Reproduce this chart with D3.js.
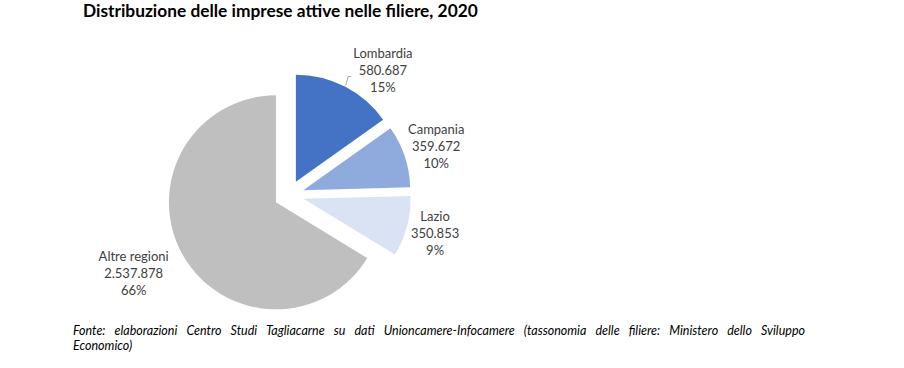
<!DOCTYPE html>
<html>
<head>
<meta charset="utf-8">
<script src="https://cdn.jsdelivr.net/npm/d3@7"></script>
<style>
  body { margin: 0; background: #fff; }
  svg { display: block; }
</style>
</head>
<body>
<div id="chart"></div>
<script>
// data
const regions = ['Lombardia', 'Campania', 'Lazio', 'Altre regioni'];
const imprese = [580687, 359672, 350853, 2537878];
const valueLabels = ['580.687', '359.672', '350.853', '2.537.878'];
const pctLabels = ['15%', '10%', '9%', '66%'];
const colors = ['#4472C4', '#8FAADC', '#DAE3F3', '#BFBFBF'];

const title = 'Distribuzione delle imprese attive nelle filiere, 2020';
const noteLines = [
    'Fonte: elaborazioni Centro Studi Tagliacarne su dati Unioncamere-Infocamere (tassonomia delle filiere: Ministero dello Sviluppo',
    'Economico)'
];

const width = 904, height = 368;
const cx = 289, cy = 195;
const radius = 107;
const explode = 15;
const labelPad = 5;
const lineH = 17;
const font = 'Lato, "Open Sans", sans-serif';
// Excel "best fit" moved a couple of labels a bit
const labelNudge = { 'Lombardia': [22, 12], 'Altre regioni': [-14, 4] };

const svg = d3.select('#chart')
    .append('svg')
    .attr('width', width)
    .attr('height', height);

// title, sized to the reference width
const titleText = svg.append('text')
    .attr('x', 83)
    .attr('y', 17)
    .attr('font-family', font)
    .attr('font-weight', 700)
    .attr('font-size', 16)
    .attr('fill', '#000')
    .text(title);
const tw = titleText.node().getComputedTextLength();
titleText.attr('font-size', 16 * 395 / tw);

const pie = d3.pie().sort(null).value(d => d);
const arcs = pie(imprese);
const arc = d3.arc().innerRadius(0).outerRadius(radius);

const g = svg.append('g').attr('transform', `translate(${cx},${cy})`);

function dirOf(d) {
    const a = (d.startAngle + d.endAngle) / 2;
    return [Math.sin(a), -Math.cos(a)];
}

g.selectAll('.slice')
    .data(arcs)
    .join('path')
    .attr('class', 'slice')
    .attr('d', arc)
    .attr('fill', (d, i) => colors[i])
    .attr('transform', d => {
        const [dx, dy] = dirOf(d);
        return `translate(${dx * explode},${dy * explode})`;
    });

// labels
const labels = g.selectAll('.lbl')
    .data(arcs)
    .join('text')
    .attr('class', 'lbl')
    .attr('font-family', font)
    .attr('font-size', 13)
    .attr('fill', '#404040')
    .attr('text-anchor', 'middle');

labels.each(function(d, i) {
    const t = d3.select(this);
    [regions[i], valueLabels[i], pctLabels[i]].forEach((s, k) => {
        t.append('tspan').attr('x', 0).attr('y', (k - 1) * lineH + 4).text(s);
    });
    const bb = this.getBBox();
    const [dx, dy] = dirOf(d);
    const r = radius + explode + labelPad;
    const nudge = labelNudge[regions[i]] || [0, 0];
    const lx = dx * r + dx * bb.width / 2 + nudge[0];
    const ly = dy * r + dy * 3 * lineH / 2 + nudge[1];
    t.attr('transform', `translate(${lx},${ly})`);
    d.lx = lx; d.ly = ly; d.w = bb.width;
});

// leader line for Lombardia
const lomb = arcs[0];
const [ldx, ldy] = dirOf(lomb);
const startPt = [ldx * (explode + radius + 2), ldy * (explode + radius + 2)];
const textLeft = lomb.lx - lomb.w / 2 - 2;
const leaderY = lomb.ly + 5;
g.append('polyline')
    .attr('points', [startPt, [textLeft - 3, leaderY], [textLeft, leaderY]].map(p => p.join(',')).join(' '))
    .attr('fill', 'none')
    .attr('stroke', '#a6a6a6')
    .attr('stroke-width', 1);

// footnote
const noteY = [335, 350];
noteLines.forEach((line, i) => {
    const t = svg.append('text')
        .attr('x', 73)
        .attr('y', noteY[i])
        .attr('font-family', font)
        .attr('font-style', 'italic')
        .attr('font-size', 12.5)
        .attr('fill', '#000')
        .text(line);
    if (i === 0) {
        const w = t.node().getComputedTextLength();
        const spaces = line.split(' ').length - 1;
        t.attr('word-spacing', (805 - 73 - w) / spaces);
    }
});
</script>
</body>
</html>
